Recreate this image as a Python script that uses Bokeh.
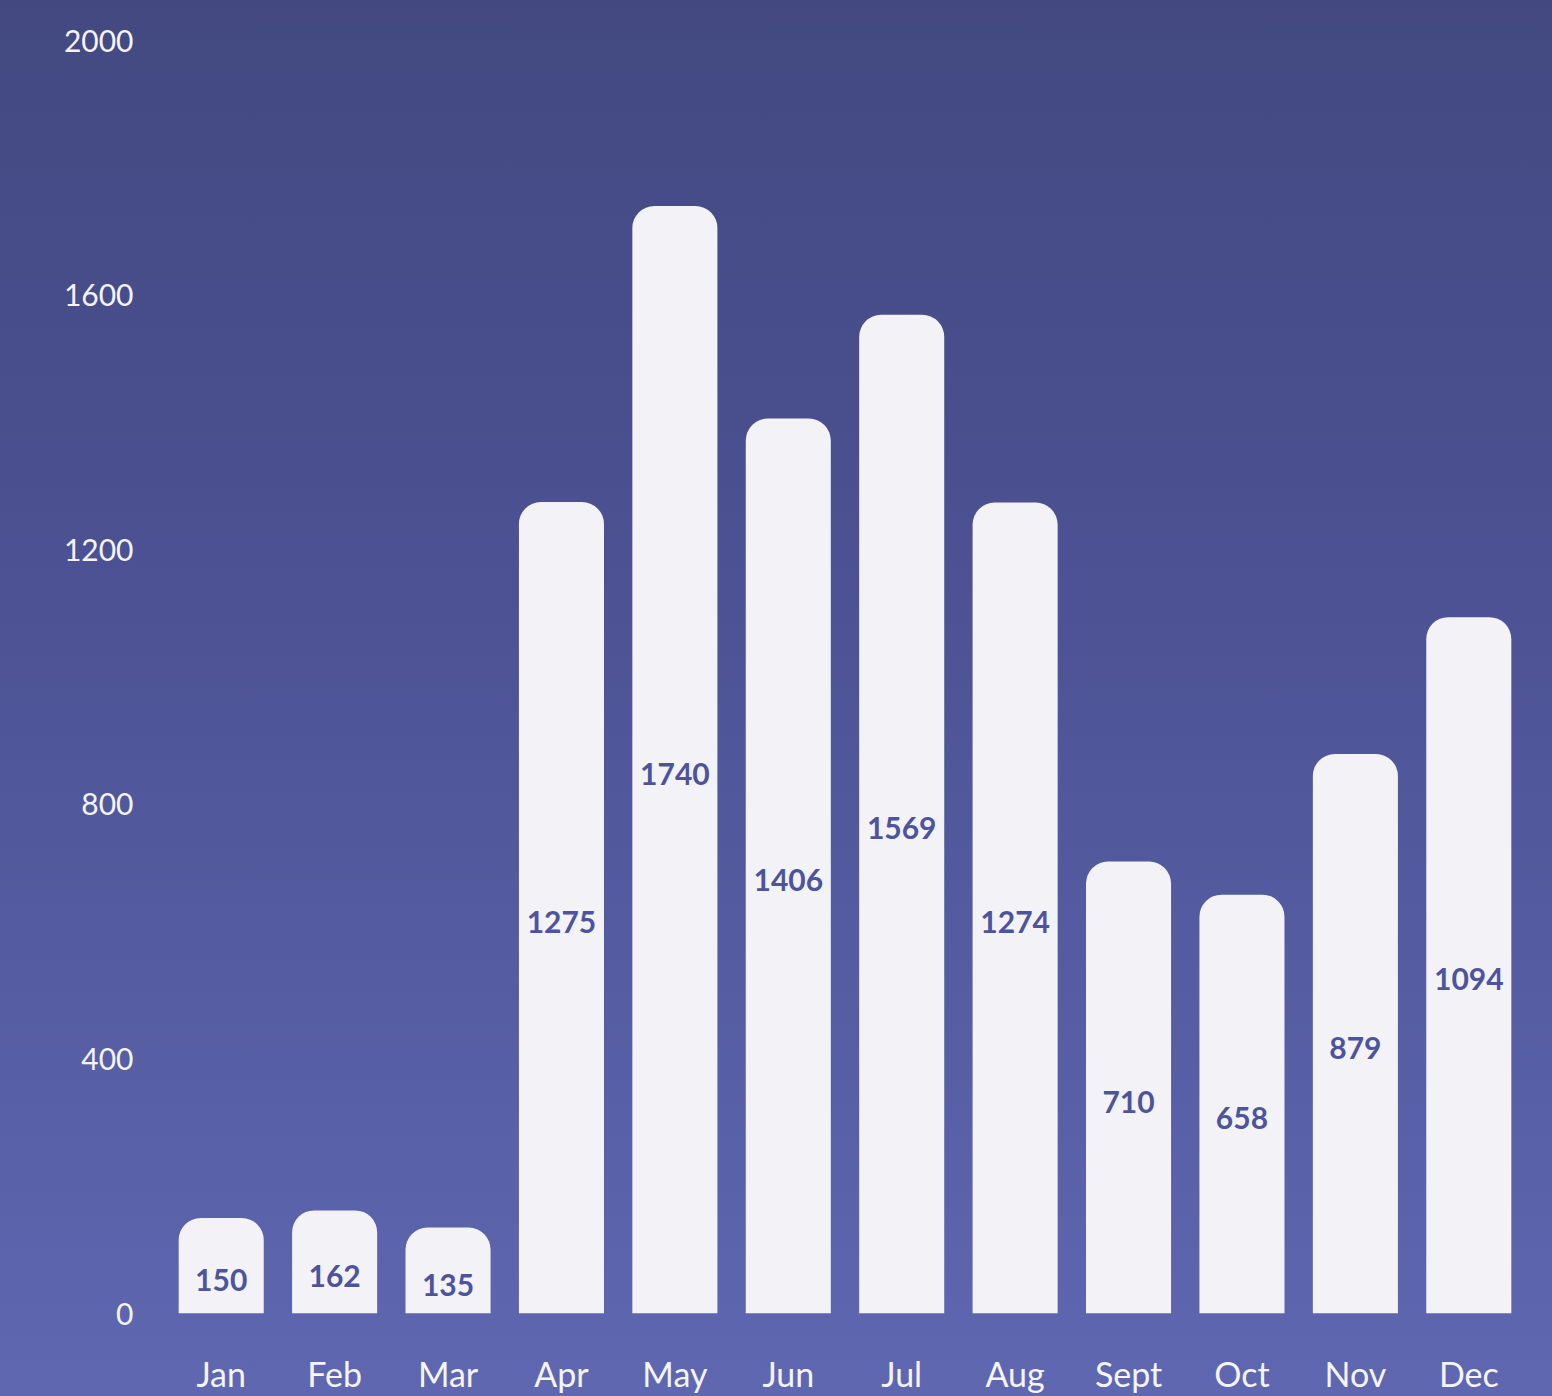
from bokeh.plotting import figure
from bokeh.models import ColumnDataSource, FixedTicker, GlobalInlineStyleSheet, Range1d
from bokeh.core.properties import value
from bokeh.embed import file_html
from bokeh.resources import INLINE

months = ["Jan", "Feb", "Mar", "Apr", "May", "Jun", "Jul", "Aug", "Sept", "Oct", "Nov", "Dec"]
sales = [150, 162, 135, 1275, 1740, 1406, 1569, 1274, 710, 658, 879, 1094]
y_ticks = [0, 400, 800, 1200, 1600, 2000]

src = ColumnDataSource(dict(
    month=months,
    val=sales,
    mid=[v / 2 for v in sales],
    label=[str(v) for v in sales],
))

p = figure(
    x_range=months,
    y_range=Range1d(0, 2000),
    width=1536, height=1396,
    output_backend="svg", toolbar_location=None,
    min_border_left=164, min_border_right=11, min_border_top=40, min_border_bottom=83,
)
p.background_fill_color = None
p.border_fill_color = None
p.outline_line_color = None
p.stylesheets = [GlobalInlineStyleSheet(css=
    "html{background:linear-gradient(to bottom,#434980 0%,#4b5192 40%,#5f67b1 100%);min-height:100%;}"
    "body{background:transparent;}")]

p.vbar(x="month", top="val", bottom=0, width=0.75, source=src,
       fill_color="#f2f2f7", line_color=None, border_radius=(22, 22, 0, 0))

p.text(x="month", y="mid", text="label", source=src,
       text_align="center", text_baseline="middle", y_offset=14,
       text_font=value("Lato"), text_font_style="bold", text_font_size="30px",
       text_color="#4d539c")

p.xgrid.grid_line_color = None
p.ygrid.grid_line_color = None

for ax in (p.xaxis, p.yaxis):
    ax.axis_line_color = None
    ax.major_tick_line_color = None
    ax.minor_tick_line_color = None
    ax.major_tick_out = 0
    ax.major_tick_in = 0
    ax.minor_tick_out = 0
    ax.major_label_text_color = "#f4f4fa"
    ax.major_label_text_font = "Lato"

p.yaxis.ticker = FixedTicker(ticks=y_ticks)
p.yaxis.major_label_text_font_size = "30px"
p.yaxis.major_label_standoff = 31
p.xaxis.major_label_text_font_size = "34px"
p.xaxis.major_label_standoff = 39

open("out.html", "w").write(file_html(p, INLINE))
